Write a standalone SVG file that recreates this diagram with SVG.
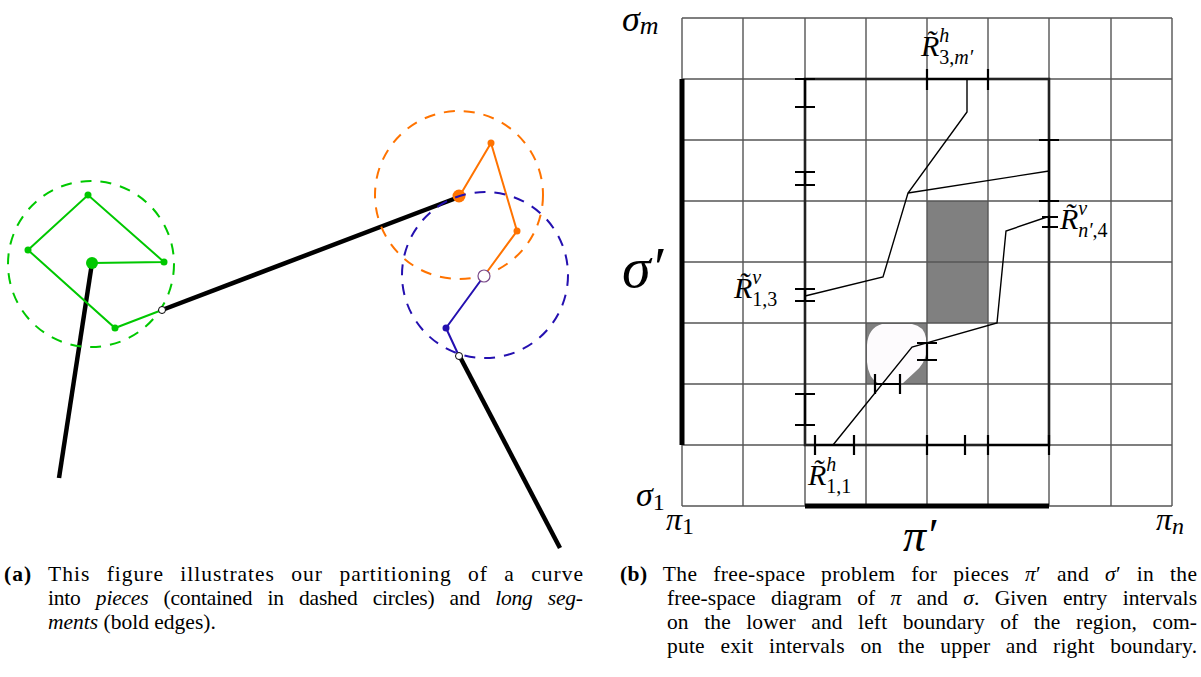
<svg xmlns="http://www.w3.org/2000/svg" width="1201" height="677" viewBox="0 0 1201 677">
<style>
.grid{stroke:#555;stroke-width:1.4;fill:none}
.bold{stroke:#222;stroke-width:2.6;fill:none}
.tick{stroke:#000;stroke-width:2.2;fill:none}
.path{stroke:#000;stroke-width:1.4;fill:none}
.seg{stroke:#000;stroke-width:4.5;fill:none;stroke-linecap:butt}
.m{font-family:"Liberation Serif",serif;font-style:italic;fill:#000}
.cap{font-family:"Liberation Serif",serif;font-size:21.5px;fill:#000}
.j{word-spacing:10px}
.it{font-style:italic}
.b{font-weight:bold}
</style>
<rect width="1201" height="677" fill="#fff"/>

<!-- Left panel -->
<g id="connectors-left">
  <line class="seg" x1="92" y1="263" x2="59" y2="478"/>
  <line class="seg" x1="162" y1="310" x2="459" y2="197"/>
  <line class="seg" x1="459" y1="355" x2="560" y2="548"/>
</g>
<g id="piece-green">
  <circle cx="91" cy="264" r="83" fill="none" stroke="#00c800" stroke-width="2" stroke-dasharray="11 9"/>
  <polyline points="92,263 164,262 88,195 28,250 115,328 162,310" fill="none" stroke="#00c800" stroke-width="2"/>
  <circle cx="92" cy="263" r="6" fill="#00c800"/>
  <circle cx="164" cy="262" r="3.5" fill="#00c800"/>
  <circle cx="88" cy="195" r="3.5" fill="#00c800"/>
  <circle cx="28" cy="250" r="3.5" fill="#00c800"/>
  <circle cx="115" cy="328" r="3.5" fill="#00c800"/>
  <circle cx="162" cy="310" r="3.5" fill="#fff" stroke="#000" stroke-width="1"/>
</g>
<g id="piece-orange">
  <circle cx="459" cy="195" r="84" fill="none" stroke="#ff7300" stroke-width="2" stroke-dasharray="11 9"/>
  <polyline points="459,197 491,143 517,231 484,276" fill="none" stroke="#ff7300" stroke-width="2"/>
  <circle cx="459" cy="196" r="6.5" fill="#ff7300"/>
  <circle cx="491" cy="143" r="3.5" fill="#ff7300"/>
  <circle cx="517" cy="231" r="3.5" fill="#ff7300"/>
</g>
<g id="piece-blue">
  <circle cx="485" cy="275" r="83" fill="none" stroke="#2410b0" stroke-width="2" stroke-dasharray="11 9"/>
  <polyline points="484,276 446,328 459,356" fill="none" stroke="#2410b0" stroke-width="2"/>
  <circle cx="446" cy="328" r="3.5" fill="#2410b0"/>
  <circle cx="459" cy="356" r="3.5" fill="#fff" stroke="#000" stroke-width="1"/>
  <circle cx="484" cy="276" r="6" fill="#fff" stroke="#7a4a8a" stroke-width="1.2"/>
</g>

<!-- Right panel -->
<g id="freespace-shading">
  <rect x="927" y="201" width="61" height="122" fill="#808080"/>
  <rect x="866" y="323" width="61" height="61" fill="#808080"/>
  <path d="M882,324 L912,324 Q924,326 926,338 L927,350 Q925,364 915,372 L902,384 L879,384 Q868,378 867,362 L867,345 Q868,328 882,324 Z" fill="#fdfbfd"/>
</g>
<g id="grid">
  <path class="grid" d="M682,18V506M743,18V506M805,18V506M866,18V506M927,18V506M988,18V506M1049,18V506M1111,18V506M1172,18V506"/>
  <path class="grid" d="M682,18H1172M682,79H1172M682,140H1172M682,201H1172M682,262H1172M682,323H1172M682,384H1172M682,445H1172M682,506H1172"/>
</g>
<g id="region">
  <rect class="bold" x="805" y="79" width="244" height="366"/>
  <line x1="682" y1="79" x2="682" y2="445" stroke="#000" stroke-width="5"/>
  <line x1="805" y1="506" x2="1049" y2="506" stroke="#000" stroke-width="5"/>
</g>
<g id="intervals">
  <path class="tick" d="M795,79H815M795,107H815M795,172H815M795,185H815M795,289H815M795,301H815M795,394H815M795,425H815"/>
  <line class="tick" x1="805" y1="79" x2="805" y2="107"/>
  <line class="tick" x1="805" y1="172" x2="805" y2="185"/>
  <line class="tick" x1="805" y1="289" x2="805" y2="301"/>
  <line class="tick" x1="805" y1="394" x2="805" y2="425"/>
  <path class="tick" d="M815,435V455M854,435V455M927,435V455M965,435V455M988,435V455M1049,435V455"/>
  <line class="tick" x1="815" y1="445" x2="854" y2="445"/>
  <line class="tick" x1="927" y1="445" x2="965" y2="445"/>
  <line class="tick" x1="988" y1="445" x2="1049" y2="445"/>
  <path class="tick" d="M927,69V90M988,69V90"/>
  <line class="tick" x1="927" y1="79" x2="988" y2="79"/>
  <path class="tick" d="M1039,140H1059M1039,201H1059M1042,217H1058M1042,227H1058"/>
  <line class="tick" x1="1049" y1="140" x2="1049" y2="201"/>
  <line class="tick" x1="1049" y1="217" x2="1049" y2="227"/>
  <path class="tick" d="M917,343H937M917,360H937M927,343V360"/>
  <path class="tick" d="M875,374V394M900,374V394M875,384H900"/>
</g>
<g id="connectors">
  <polyline class="path" points="805,296 883,277 908,193 967,112 967,79"/>
  <line class="path" x1="908" y1="193" x2="1049" y2="171"/>
  <polyline class="path" points="833,445 912,347 997,323 1006,231 1050,216"/>
</g>
<g id="labels">
  <text class="m" x="622" y="31" font-size="36">σ<tspan font-size="26" dy="3">m</tspan></text>
  <text class="m" x="622" y="287" font-size="58">σ′</text>
  <text class="m" x="636" y="506" font-size="34">σ<tspan font-style="normal" font-size="24" dy="4">1</tspan></text>
  <text class="m" x="666" y="530" font-size="32">π<tspan font-style="normal" font-size="24" dy="4">1</tspan></text>
  <text class="m" x="903" y="551" font-size="46">π′</text>
  <text class="m" x="1156" y="530" font-size="32">π<tspan font-size="24" dy="4">n</tspan></text>
  <text class="m" x="921" y="56" font-size="30">R̃<tspan font-size="20" dy="-14">h</tspan><tspan font-size="20" dx="-10" dy="22" font-style="normal">3,</tspan><tspan font-size="20">m′</tspan></text>
  <text class="m" x="734" y="298" font-size="30">R̃<tspan font-size="20" dy="-14">v</tspan><tspan font-size="20" dx="-9" dy="22" font-style="normal">1,3</tspan></text>
  <text class="m" x="1060" y="229" font-size="30">R̃<tspan font-size="20" dy="-14">v</tspan><tspan font-size="20" dx="-9" dy="22">n′</tspan><tspan font-size="20" font-style="normal">,4</tspan></text>
  <text class="m" x="808" y="485" font-size="30">R̃<tspan font-size="20" dy="-14">h</tspan><tspan font-size="20" dx="-10" dy="22" font-style="normal">1,1</tspan></text>
</g>

<!-- Captions -->
<g id="caption-a">
  <text class="cap j" x="4" y="581" textLength="579" lengthAdjust="spacing"><tspan class="b">(a)</tspan> This figure illustrates our partitioning of a curve</text>
  <text class="cap j" x="48" y="605" textLength="535" lengthAdjust="spacing">into <tspan class="it">pieces</tspan> (contained in dashed circles) and <tspan class="it">long seg-</tspan></text>
  <text class="cap" x="48" y="629" font-size="20.5"><tspan class="it">ments</tspan> (bold edges).</text>
</g>
<g id="caption-b">
  <text class="cap j" x="620" y="581" textLength="577" lengthAdjust="spacing"><tspan class="b">(b)</tspan> The free-space problem for pieces <tspan class="it">π</tspan>′ and <tspan class="it">σ</tspan>′ in the</text>
  <text class="cap j" x="667" y="605" textLength="530" lengthAdjust="spacing">free-space diagram of <tspan class="it">π</tspan> and <tspan class="it">σ</tspan>. Given entry intervals</text>
  <text class="cap j" x="667" y="629" textLength="530" lengthAdjust="spacing">on the lower and left boundary of the region, com-</text>
  <text class="cap j" x="667" y="653" textLength="530" lengthAdjust="spacing">pute exit intervals on the upper and right boundary.</text>
</g>
</svg>
